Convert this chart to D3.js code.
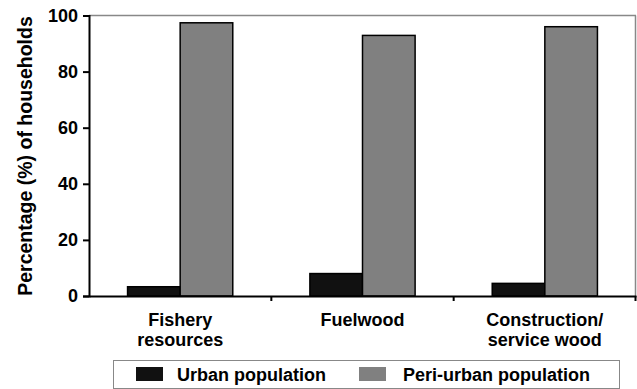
<!DOCTYPE html>
<html><head><meta charset="utf-8">
<script src="https://cdn.jsdelivr.net/npm/d3@7"></script>
<style>body{margin:0;background:#fff}svg{display:block}text{font-family:"Liberation Sans",Arial,sans-serif;font-weight:bold}</style>
</head><body><svg id="c" width="637" height="389"></svg>
<script>
const categories = [["Fishery","resources"],["Fuelwood"],["Construction/","service wood"]];
const seriesNames = ["Urban population","Peri-urban population"];
const urban = [3.3, 8, 4.5];
const periUrban = [97.4, 92.9, 96];
const yTicks = [0,20,40,60,80,100];
const colors = ["#111111","#808080"];

const svg = d3.select("#c");
const m = {l:89, r:636, t:15.5, b:296};
const keys = categories.map((c,i)=>i);
const x = d3.scaleBand().domain(keys).range([m.l,m.r]).paddingInner(0).paddingOuter(0);
const xs = d3.scaleBand().domain([0,1]).range([0,x.bandwidth()]).paddingInner(0).paddingOuter(0.733);
const y = d3.scaleLinear().domain([0,100]).range([m.b,m.t]);

// frame top/right
svg.append("line").attr("x1",m.l).attr("x2",m.r).attr("y1",m.t).attr("y2",m.t).attr("stroke","#888").attr("stroke-width",1.5);
svg.append("line").attr("x1",m.r-0.5).attr("x2",m.r-0.5).attr("y1",m.t).attr("y2",m.b).attr("stroke","#888").attr("stroke-width",1.5);

const data = keys.map(i=>[urban[i],periUrban[i]]);
const g = svg.append("g");
keys.forEach(i=>{
  data[i].forEach((v,j)=>{
    g.append("rect").attr("x",x(i)+xs(j)).attr("width",xs.bandwidth())
      .attr("y",y(v)).attr("height",y(0)-y(v))
      .attr("fill",colors[j]).attr("stroke","#000").attr("stroke-width",1.5);
  });
});

// y axis
const ya = svg.append("g").attr("transform",`translate(${m.l},0)`)
  .call(d3.axisLeft(y).tickValues(yTicks).tickSize(6).tickPadding(5));
ya.select(".domain").attr("stroke","#000").attr("stroke-width",2);
ya.selectAll(".tick line").attr("stroke","#000").attr("stroke-width",2);
ya.selectAll(".tick text").attr("font-size",18).attr("fill","#000").attr("font-family",'"Liberation Sans",Arial,sans-serif').attr("font-weight","bold");

// x axis
const xa = svg.append("g").attr("transform",`translate(0,${m.b})`)
  .call(d3.axisBottom(x).tickSize(0).tickFormat(""));
xa.select(".domain").attr("stroke","#000").attr("stroke-width",2);
keys.slice(1).forEach(i=>{
  xa.append("line").attr("x1",x(i)).attr("x2",x(i)).attr("y1",0).attr("y2",5).attr("stroke","#000").attr("stroke-width",2);
});
xa.append("line").attr("x1",m.r-0.5).attr("x2",m.r-0.5).attr("y1",0).attr("y2",5).attr("stroke","#000").attr("stroke-width",2);

keys.forEach(i=>{
  const t = svg.append("text").attr("x",x(i)+x.bandwidth()/2).attr("y",326).attr("text-anchor","middle").attr("font-size",18).attr("fill","#000");
  categories[i].forEach((line,k)=>{
    t.append("tspan").attr("x",x(i)+x.bandwidth()/2).attr("dy",k?20:0).text(line);
  });
});

// y title
svg.append("text").attr("transform","translate(32,156) rotate(-90)").attr("text-anchor","middle")
  .attr("font-size",19.5).attr("fill","#000").text("Percentage (%) of households");

// legend
svg.append("rect").attr("x",113.5).attr("y",360.5).attr("width",506).attr("height",28).attr("fill","#fff").attr("stroke","#888").attr("stroke-width",1);
const lx = [136, 359], tx = [177, 403];
seriesNames.forEach((s,j)=>{
  svg.append("rect").attr("x",lx[j]).attr("y",367).attr("width",27).attr("height",14).attr("fill",colors[j]);
  svg.append("text").attr("x",tx[j]).attr("y",381).attr("font-size",18).attr("fill","#000").text(s);
});
</script></body></html>
